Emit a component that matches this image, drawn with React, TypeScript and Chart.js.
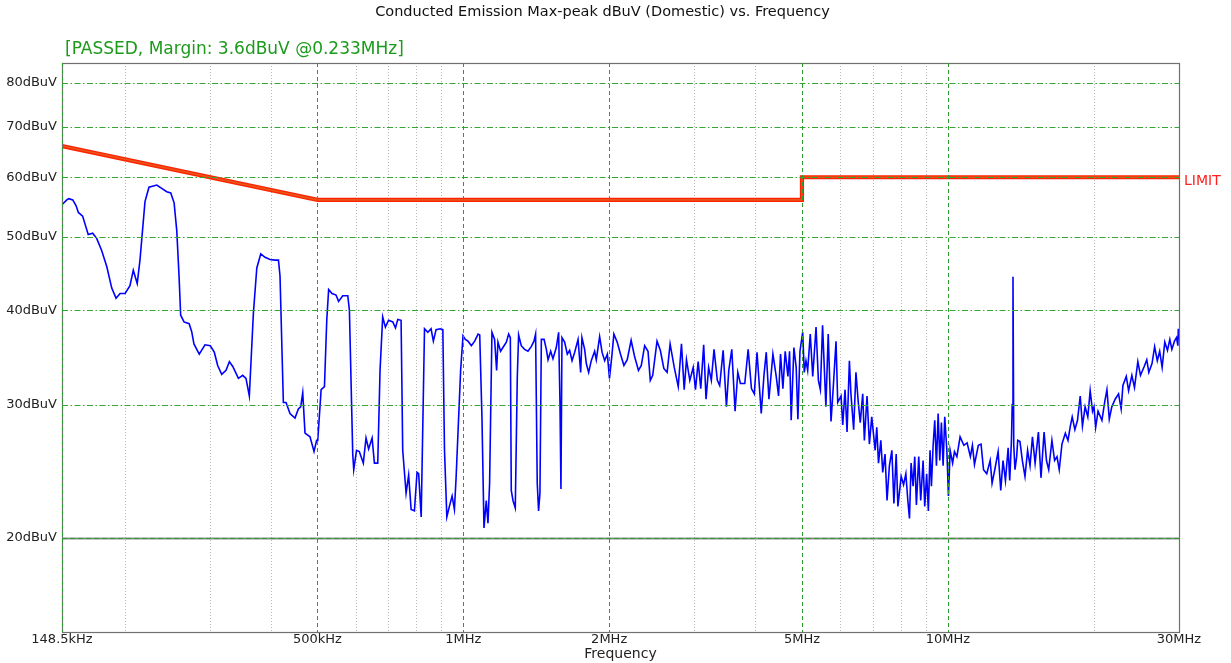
import React, { useEffect, useRef } from 'react';
import { Chart, registerables } from 'chart.js';

Chart.register(...registerables);

const FONT = '"DejaVu Sans", Verdana, sans-serif';

// Axis ticks
const xTickValues = [0.1485, 0.5, 1, 2, 5, 10, 30];
const xTickLabels = ['148.5kHz', '500kHz', '1MHz', '2MHz', '5MHz', '10MHz', '30MHz'];
const xMinorGrid = [0.2, 0.3, 0.4, 0.6, 0.7, 0.8, 0.9, 3, 4, 6, 7, 8, 9, 20];
const yTickValues = [20, 30, 40, 50, 60, 70, 80];
const yTickLabels = ['20dBuV', '30dBuV', '40dBuV', '50dBuV', '60dBuV', '70dBuV', '80dBuV'];

// Limit line (MHz, dBuV)
const limitFreqMHz = [0.1485, 0.5, 5, 5, 30];
const limitDbuv = [66, 56, 56, 60, 60];

// Measured max-peak emission [MHz, dBuV], by band
const band150k = [
  [0.149, 55.3], [0.1519, 56.0], [0.1533, 56.2], [0.1563, 56.0], [0.1588, 55.0], [0.1605, 53.9],
  [0.1638, 53.3], [0.1682, 50.4], [0.1718, 50.6], [0.1751, 49.8], [0.1793, 48.0], [0.1837, 45.7],
  [0.1881, 42.8], [0.192, 41.5], [0.1957, 42.1], [0.2004, 42.1], [0.2051, 43.1], [0.2084, 45.2],
  [0.2123, 43.4], [0.2151, 46.6], [0.2203, 55.7], [0.2245, 58.2], [0.233, 58.6], [0.2385, 58.0],
  [0.2443, 57.4], [0.249, 57.2], [0.253, 55.5], [0.2562, 51.0], [0.259, 44.4], [0.261, 39.4],
  [0.2652, 38.6], [0.2717, 38.4], [0.275, 37.5], [0.278, 36.1], [0.2851, 35.0], [0.293, 36.0],
  [0.3004, 35.9], [0.3062, 35.2], [0.3112, 33.8], [0.3172, 32.9], [0.3238, 33.3], [0.329, 34.2],
  [0.3343, 33.7], [0.3434, 32.5], [0.3505, 32.8], [0.356, 32.5], [0.3617, 30.8], [0.3688, 39.7],
  [0.3748, 45.5], [0.3819, 47.5], [0.3898, 47.0], [0.3992, 46.7], [0.4088, 46.6], [0.4154, 46.6],
  [0.4185, 44.4], [0.4252, 30.2], [0.4307, 30.2], [0.4388, 29.2], [0.4494, 28.8], [0.4566, 29.6],
  [0.4617, 29.8], [0.4662, 31.1], [0.4713, 27.5], [0.4826, 27.2], [0.4919, 26.0], [0.498, 26.9],
];

const band500k = [
  [0.5007, 26.9], [0.5088, 31.4], [0.5169, 31.7], [0.5226, 38.8], [0.5273, 42.6], [0.5359, 42.1],
  [0.5461, 41.9], [0.5528, 41.1], [0.5639, 41.8], [0.5775, 41.8], [0.582, 40.0], [0.5913, 25.8],
  [0.5941, 24.6], [0.602, 26.1], [0.61, 26.0], [0.6217, 25.1], [0.6298, 27.1], [0.6376, 26.2],
  [0.6483, 27.1], [0.6554, 25.1], [0.6659, 25.1], [0.6732, 33.3], [0.6817, 39.2], [0.6905, 38.0],
  [0.701, 38.8], [0.7153, 38.6], [0.7244, 37.9], [0.7325, 38.9], [0.744, 38.8], [0.7498, 26.1],
  [0.7619, 22.9], [0.7712, 24.2], [0.7803, 21.8], [0.7927, 21.7], [0.8026, 24.4], [0.8088, 24.3],
  [0.8186, 21.3], [0.8316, 37.8], [0.8449, 37.4], [0.8579, 37.8], [0.8673, 36.4], [0.8786, 37.7],
  [0.896, 37.8], [0.9073, 37.7], [0.9145, 26.1], [0.9247, 21.3], [0.936, 22.0], [0.9482, 22.7],
  [0.9586, 21.8], [0.9663, 24.0], [0.9873, 33.3], [0.9986, 37.0],
];

const band1M = [
  [1.0095, 36.6], [1.0226, 36.4], [1.039, 35.9], [1.0556, 36.4], [1.0727, 37.2], [1.0811, 37.1],
  [1.0926, 28.9], [1.1032, 20.6], [1.1152, 22.4], [1.1243, 20.9], [1.1331, 23.6], [1.1458, 37.4],
  [1.1603, 36.6], [1.1715, 33.3], [1.179, 36.3], [1.1937, 35.3], [1.2136, 35.9], [1.2269, 36.3],
  [1.2405, 37.2], [1.2504, 36.8], [1.256, 23.1], [1.2662, 22.4], [1.2801, 21.9], [1.2924, 32.6],
  [1.3006, 37.1], [1.317, 35.9], [1.338, 35.5], [1.3597, 35.3], [1.381, 35.8], [1.399, 36.4],
  [1.4099, 37.2], [1.421, 23.6], [1.43, 21.7], [1.4393, 22.9], [1.449, 36.6], [1.4678, 36.6],
  [1.4839, 35.5], [1.4959, 34.4], [1.5146, 35.3], [1.5313, 34.5], [1.5556, 35.7], [1.573, 37.4],
  [1.5831, 30.2], [1.5904, 23.2], [1.5983, 36.8], [1.6185, 36.3], [1.6392, 35.0], [1.6575, 35.4],
  [1.6765, 34.3], [1.6977, 35.2], [1.7251, 36.6], [1.7467, 33.1], [1.7573, 36.8], [1.78, 35.5],
  [1.7942, 34.0], [1.8142, 33.1], [1.837, 34.3], [1.8664, 35.3], [1.8813, 34.4], [1.9114, 36.9],
  [1.9334, 35.2], [1.9578, 34.3], [1.9829, 35.0],
];

const band2M = [
  [2.0029, 32.5], [2.0258, 34.8], [2.0452, 37.2], [2.0776, 36.3], [2.1102, 35.0], [2.1453, 33.8],
  [2.1794, 34.4], [2.22, 36.5], [2.2555, 34.8], [2.2988, 33.3], [2.33, 33.8], [2.3673, 35.9],
  [2.4055, 35.3], [2.4318, 32.3], [2.4598, 32.8], [2.5108, 36.4], [2.5505, 35.4], [2.5933, 33.5],
  [2.6342, 33.1], [2.6719, 36.1], [2.725, 33.6], [2.7772, 31.7], [2.82, 36.1], [2.8567, 31.4],
  [2.888, 34.4], [2.9342, 32.3], [2.9815, 33.6], [3.0143, 31.4], [3.0528, 34.2], [3.0911, 31.5],
  [3.134, 36.0], [3.1694, 30.5], [3.2085, 33.6], [3.25, 32.3], [3.2922, 35.5], [3.3443, 32.3],
  [3.3816, 31.8], [3.4376, 35.4], [3.4922, 29.8], [3.531, 33.3], [3.5818, 35.5], [3.6385, 29.4],
  [3.6857, 33.1], [3.7317, 32.0], [3.81, 32.0], [3.8715, 35.5], [3.9326, 31.5], [3.9868, 31.0],
  [4.0384, 35.2], [4.12, 29.2], [4.1736, 32.8], [4.2193, 35.2], [4.2733, 30.5], [4.355, 35.0],
  [4.4241, 32.7], [4.4734, 30.8], [4.5157, 35.0], [4.5667, 31.5], [4.617, 35.3], [4.6768, 32.7],
  [4.7135, 35.3], [4.75, 28.6], [4.8118, 35.7], [4.8645, 33.6], [4.9039, 28.7], [4.9525, 35.3],
];

const band5M = [
  [5.0167, 37.4], [5.055, 33.1], [5.096, 34.3], [5.1374, 33.3], [5.2008, 37.2], [5.2623, 32.7],
  [5.3458, 38.0], [5.4053, 32.3], [5.4565, 31.4], [5.5143, 38.2], [5.6018, 29.8], [5.6642, 37.2],
  [5.74, 28.5], [5.803, 31.7], [5.8783, 36.4], [5.926, 30.2], [6.02, 30.8], [6.0688, 28.2],
  [6.1356, 31.4], [6.1946, 27.6], [6.2638, 34.3], [6.31, 31.0], [6.392, 27.8], [6.462, 33.1],
  [6.534, 30.2], [6.596, 28.4], [6.6736, 31.0], [6.726, 26.9], [6.812, 30.8], [6.888, 26.6],
  [6.966, 28.9], [7.08, 26.1], [7.134, 28.0], [7.193, 25.1], [7.273, 26.9], [7.339, 24.4],
  [7.42, 25.8], [7.491, 22.4], [7.575, 24.9], [7.665, 26.1], [7.739, 22.2], [7.824, 25.8],
  [7.888, 22.0], [8.011, 24.1], [8.103, 23.5], [8.192, 24.3], [8.269, 22.4], [8.334, 21.2],
  [8.398, 25.1], [8.478, 23.4], [8.545, 25.6], [8.613, 22.1], [8.709, 25.6], [8.791, 22.4],
  [8.891, 25.3], [8.961, 22.0], [9.043, 24.3], [9.117, 21.7], [9.19, 26.1], [9.25, 23.4],
  [9.325, 26.5], [9.398, 28.6], [9.473, 24.9], [9.55, 29.2], [9.625, 25.3], [9.7, 28.4],
  [9.779, 24.9], [9.855, 28.9], [9.953, 26.1],
];

const band10M = [
  [10.03, 22.7], [10.11, 26.1], [10.23, 25.1], [10.32, 26.0], [10.44, 25.6], [10.6, 27.2],
  [10.79, 26.5], [10.96, 26.7], [11.13, 25.6], [11.24, 26.5], [11.35, 25.0], [11.56, 26.5],
  [11.71, 26.6], [11.85, 24.6], [12.03, 24.3], [12.23, 25.3], [12.34, 23.6], [12.5, 24.6],
  [12.7, 26.0], [12.86, 23.1], [13.0, 25.3], [13.15, 23.8], [13.32, 26.3], [13.42, 23.8],
  [13.53, 26.9], [13.58, 30.0], [13.63, 44.3], [13.68, 26.5], [13.76, 24.6], [13.87, 25.6],
  [13.94, 26.9], [14.09, 26.8], [14.25, 25.3], [14.43, 24.1], [14.61, 26.1], [14.78, 24.9],
  [14.95, 27.2], [15.14, 25.1], [15.38, 27.6], [15.57, 24.0], [15.8, 27.6], [15.98, 25.3],
  [16.15, 24.6], [16.4, 26.9], [16.61, 25.3], [16.8, 25.6], [16.98, 24.6], [17.2, 26.6],
  [17.48, 27.5], [17.7, 26.9], [17.9, 28.1], [18.06, 28.9], [18.29, 27.8], [18.52, 28.6],
  [18.76, 30.8], [18.96, 28.1], [19.2, 29.8], [19.45, 28.9], [19.67, 31.3], [19.89, 29.4],
  [20.03, 29.8], [20.19, 28.0], [20.42, 29.4], [20.8, 28.6], [21.07, 30.2], [21.3, 31.4],
  [21.54, 28.7], [21.8, 29.8], [22.15, 30.5], [22.51, 31.0], [22.79, 29.6], [22.98, 31.8],
  [23.35, 32.7], [23.61, 31.3], [23.98, 32.8], [24.28, 31.6], [24.67, 34.2], [24.98, 32.8],
  [25.43, 33.7], [25.74, 34.4], [25.99, 33.1], [26.39, 34.0], [26.72, 35.8], [27.06, 34.3],
  [27.37, 35.3], [27.69, 33.6], [28.04, 36.3], [28.4, 35.4], [28.72, 36.6], [29.0, 35.5],
  [29.36, 36.4], [29.65, 36.8], [29.84, 35.9], [29.9, 37.8], [30.0, 36.6],
];

const TITLE = 'Conducted Emission Max-peak dBuV (Domestic) vs. Frequency';
const SUBTITLE = '[PASSED, Margin: 3.6dBuV @0.233MHz]';
const LIMIT_LABEL = 'LIMIT';
const LIMIT_LABEL_VALUE = 60;

const GREEN_H = '#33a633';
const GREEN_V = '#2f9a2f';

function seg(ctx: CanvasRenderingContext2D, x1: number, y1: number, x2: number, y2: number) {
  ctx.beginPath();
  ctx.moveTo(x1, y1);
  ctx.lineTo(x2, y2);
  ctx.stroke();
}

const gridBelowPlugin = {
  id: 'gridBelow',
  beforeDatasetsDraw(chart: any) {
    const { ctx, chartArea: a, scales } = chart;
    const xs = scales.x;
    ctx.save();
    ctx.lineWidth = 1;
    ctx.strokeStyle = '#b8b8b8';
    ctx.setLineDash([1, 2]);
    for (const f of xMinorGrid) {
      const px = Math.round(xs.getPixelForValue(f)) + 0.5;
      seg(ctx, px, a.top, px, a.bottom);
    }
    ctx.restore();
  },
};

const gridAbovePlugin = {
  id: 'gridAbove',
  afterDatasetsDraw(chart: any) {
    const { ctx, chartArea: a, scales } = chart;
    const xs = scales.x;
    const ys = scales.y;
    ctx.save();
    // frame
    ctx.setLineDash([]);
    ctx.lineWidth = 1.2;
    ctx.strokeStyle = '#707070';
    ctx.strokeRect(Math.round(a.left) + 0.5, Math.round(a.top) + 0.5, Math.round(a.right - a.left), Math.round(a.bottom - a.top));
    // horizontal dash-dot grid
    ctx.lineWidth = 1;
    ctx.strokeStyle = GREEN_H;
    ctx.setLineDash([6, 2.5, 1.5, 2.5]);
    for (const v of yTickValues) {
      if (v === yTickValues[0]) continue;
      const py = Math.round(ys.getPixelForValue(v)) + 0.5;
      seg(ctx, a.left, py, a.right, py);
    }
    // lowest grid line: gray solid with green dashes
    const p20 = Math.round(ys.getPixelForValue(yTickValues[0])) + 0.5;
    ctx.setLineDash([]);
    ctx.lineWidth = 2;
    ctx.strokeStyle = '#8a8a8a';
    seg(ctx, a.left, p20, a.right, p20);
    ctx.lineWidth = 1;
    ctx.strokeStyle = GREEN_V;
    ctx.setLineDash([5, 3]);
    seg(ctx, a.left, p20, a.right, p20);
    // vertical major dashed grid (including edges)
    ctx.strokeStyle = GREEN_V;
    ctx.setLineDash([4, 3]);
    for (const f of xTickValues) {
      const px = Math.round(xs.getPixelForValue(f)) + 0.5;
      seg(ctx, px, a.top, px, a.bottom);
    }
    ctx.restore();
  },
};

const textPlugin = {
  id: 'emcText',
  afterDraw(chart: any) {
    const { ctx, chartArea: a, scales } = chart;
    ctx.save();
    ctx.textBaseline = 'middle';
    ctx.fillStyle = '#111';
    ctx.font = `14.5px ${FONT}`;
    ctx.textAlign = 'center';
    ctx.fillText(TITLE, 602.5, 12.5);
    ctx.fillStyle = '#1c9a1c';
    ctx.font = `17px ${FONT}`;
    ctx.textAlign = 'left';
    ctx.fillText(SUBTITLE, a.left + 3, 50);
    ctx.fillStyle = '#ff2020';
    ctx.font = `14px ${FONT}`;
    ctx.fillText(LIMIT_LABEL, a.right + 5, scales.y.getPixelForValue(LIMIT_LABEL_VALUE) + 4);
    ctx.restore();
  },
};

export default function App() {
  const ref = useRef<HTMLCanvasElement | null>(null);

  useEffect(() => {
    if (!ref.current) return;
    const emission = [...band150k, ...band500k, ...band1M, ...band2M, ...band5M, ...band10M].map(
      ([f, v]) => ({ x: f, y: v })
    );
    const limit = limitFreqMHz.map((f, i) => ({ x: f, y: limitDbuv[i] }));

    const tickFont = { family: FONT, size: 13 };

    const chart = new Chart(ref.current, {
      type: 'line',
      data: {
        datasets: [
          {
            label: 'Emission',
            data: emission,
            borderColor: '#0000ff',
            borderWidth: 1.6,
            pointRadius: 0,
            tension: 0,
            order: 0,
          },
          {
            label: 'Limit core',
            data: limit,
            borderColor: '#ea5418',
            borderWidth: 1.6,
            pointRadius: 0,
            tension: 0,
            order: 1,
          },
          {
            label: 'Limit',
            data: limit,
            borderColor: '#ff2200',
            borderWidth: 4.2,
            pointRadius: 0,
            tension: 0,
            order: 2,
          },
        ],
      },
      options: {
        responsive: false,
        animation: false,
        devicePixelRatio: 1,
        events: [],
        layout: { padding: { left: 0, right: 52, top: 63, bottom: 0 } },
        plugins: {
          legend: { display: false },
          tooltip: { enabled: false },
          title: { display: false },
        },
        scales: {
          x: {
            type: 'logarithmic',
            min: xTickValues[0],
            max: xTickValues[xTickValues.length - 1],
            afterBuildTicks: (s: any) => {
              s.ticks = xTickValues.map((v) => ({ value: v }));
            },
            afterFit: (s: any) => {
              s.height = 31;
              s.paddingLeft = 0;
              s.paddingRight = 0;
            },
            ticks: {
              autoSkip: false,
              maxRotation: 0,
              minRotation: 0,
              padding: 0,
              color: '#222',
              font: tickFont,
              callback: (_v: any, i: number) => xTickLabels[i],
            },
            grid: { display: false, drawTicks: false },
            border: { display: false },
            title: {
              display: true,
              text: 'Frequency',
              color: '#222',
              font: { family: FONT, size: 14 },
              padding: { top: 0, bottom: 0 },
            },
          },
          y: {
            type: 'logarithmic',
            min: 15,
            max: 85,
            afterBuildTicks: (s: any) => {
              s.ticks = yTickValues.map((v) => ({ value: v }));
            },
            afterFit: (s: any) => {
              s.width = 62;
            },
            ticks: {
              autoSkip: false,
              padding: 5,
              color: '#222',
              font: tickFont,
              callback: (_v: any, i: number) => yTickLabels[i],
            },
            grid: { display: false, drawTicks: false },
            border: { display: false },
          },
        },
      },
      plugins: [gridBelowPlugin, gridAbovePlugin, textPlugin],
    } as any);

    return () => chart.destroy();
  }, []);

  return (
    <canvas
      ref={ref}
      width={1231}
      height={663}
      style={{ position: 'absolute', left: 0, top: 0, width: 1231, height: 663, background: '#fff' }}
    />
  );
}
